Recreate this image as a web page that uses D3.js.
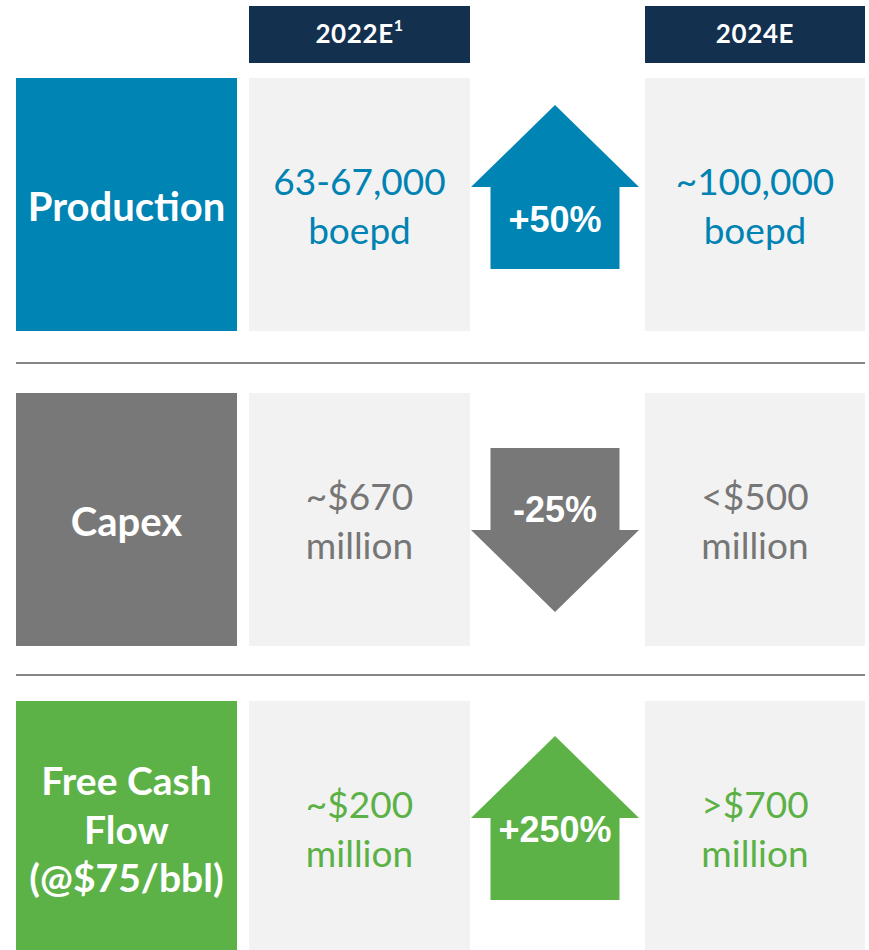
<!DOCTYPE html>
<html>
<head>
<meta charset="utf-8">
<script src="https://cdn.jsdelivr.net/npm/d3@7"></script>
<style>
  html, body { margin: 0; padding: 0; background: #ffffff; }
  svg { display: block; }
</style>
</head>
<body>
<div id="chart"></div>
<script>
// ---- data ----
const metrics = ["Production", "Capex", "Free Cash Flow"];
const metricLabelLines = [["Production"], ["Capex"], ["Free Cash", "Flow", "(@$75/bbl)"]];
const periods = ["2022E", "2024E"];
const periodFootnotes = ["1", ""];
const values2022 = [["63-67,000", "boepd"], ["~$670", "million"], ["~$200", "million"]];
const values2024 = [["~100,000", "boepd"], ["<$500", "million"], [">$700", "million"]];
const changeLabels = ["+50%", "-25%", "+250%"];
const changeDirections = ["up", "down", "up"];

// ---- layout / style ----
const W = 869, H = 950;
const colors = {
  Production: "#0084B4",
  Capex: "#787878",
  "Free Cash Flow": "#5CB247"
};
const textColors = {
  Production: "#0083B3",
  Capex: "#767676",
  "Free Cash Flow": "#5BB146"
};
const navy = "#14304F";
const cellBg = "#F2F2F2";

const rowTop = d3.scaleOrdinal().domain(metrics).range([78, 393, 701]);
const rowH = 253;
const colX = d3.scaleOrdinal().domain(["label", ...periods]).range([16, 249, 645]);
const colW = d3.scaleOrdinal().domain(["label", ...periods]).range([221, 221, 220]);
const arrowCx = 555;
const arrowTopOffset = d3.scaleOrdinal().domain(metrics).range([27, 55, 35]);
const arrowTextOffset = d3.scaleOrdinal().domain(metrics).range([127, 74, 106]);
const separatorsY = [363, 675];

const svg = d3.select("#chart").append("svg")
  .attr("width", W).attr("height", H)
  .attr("viewBox", `0 0 ${W} ${H}`);

// header boxes
const header = svg.append("g").selectAll("g")
  .data(periods)
  .join("g");
header.append("rect")
  .attr("x", d => colX(d)).attr("y", 6)
  .attr("width", d => colW(d)).attr("height", 57)
  .attr("fill", navy);
const headerText = header.append("text")
  .attr("x", d => colX(d) + colW(d) / 2)
  .attr("y", 43)
  .attr("text-anchor", "middle")
  .attr("fill", "#ffffff")
  .attr("font-family", "Lato, 'Open Sans', sans-serif")
  .attr("font-weight", "bold")
  .attr("font-size", 26)
  .attr("letter-spacing", 0.6);
headerText.append("tspan").text(d => d);
headerText.append("tspan")
  .attr("dy", -12)
  .attr("font-size", 16)
  .text((d, i) => periodFootnotes[i]);

// separator lines
svg.append("g").selectAll("line")
  .data(separatorsY)
  .join("line")
  .attr("x1", 16).attr("x2", 865)
  .attr("y1", d => d).attr("y2", d => d)
  .attr("stroke", "#868686")
  .attr("stroke-width", 1.8);

// rows
const rows = svg.append("g").selectAll("g.row")
  .data(metrics)
  .join("g")
  .attr("class", "row");

rows.append("rect")
  .attr("x", colX("label")).attr("y", d => rowTop(d))
  .attr("width", colW("label")).attr("height", rowH)
  .attr("fill", d => colors[d]);

rows.each(function(d, i) {
  const g = d3.select(this);
  const cy = rowTop(d) + rowH / 2;
  const lines = metricLabelLines[i];
  const lh = 48.5;
  const first = cy + 16 - (lines.length - 1) / 2 * lh;
  g.append("text")
    .attr("text-anchor", "middle")
    .attr("fill", "#ffffff")
    .attr("font-family", "Lato, 'Open Sans', sans-serif")
    .attr("font-weight", "bold")
    .attr("font-size", lines.length > 1 ? 39 : 40)
    .selectAll("tspan")
    .data(lines)
    .join("tspan")
    .attr("x", colX("label") + colW("label") / 2)
    .attr("y", (l, j) => first + j * lh)
    .text(l => l);

  [values2022[i], values2024[i]].forEach((vals, k) => {
    const p = periods[k];
    g.append("rect")
      .attr("x", colX(p)).attr("y", rowTop(d))
      .attr("width", colW(p)).attr("height", rowH)
      .attr("fill", cellBg);
    g.append("text")
      .attr("text-anchor", "middle")
      .attr("fill", textColors[d])
      .attr("font-family", "Lato, 'Open Sans', sans-serif")
      .attr("font-size", 37)
      .selectAll("tspan")
      .data(vals)
      .join("tspan")
      .attr("x", colX(p) + colW(p) / 2)
      .attr("y", (v, j) => cy - 10 + j * 49)
      .text(v => v);
  });

  const top = rowTop(d) + arrowTopOffset(d);
  const headH = 82, totalH = 164, headHalf = 84, shaftHalf = 64.5;
  const pts = changeDirections[i] === "up"
    ? [[arrowCx, top], [arrowCx + headHalf, top + headH], [arrowCx + shaftHalf, top + headH],
       [arrowCx + shaftHalf, top + totalH], [arrowCx - shaftHalf, top + totalH],
       [arrowCx - shaftHalf, top + headH], [arrowCx - headHalf, top + headH]]
    : [[arrowCx - shaftHalf, top], [arrowCx + shaftHalf, top], [arrowCx + shaftHalf, top + headH],
       [arrowCx + headHalf, top + headH], [arrowCx, top + totalH], [arrowCx - headHalf, top + headH],
       [arrowCx - shaftHalf, top + headH]];
  g.append("path")
    .attr("d", d3.line()(pts) + "Z")
    .attr("fill", colors[d]);
  g.append("text")
    .attr("x", arrowCx)
    .attr("y", top + arrowTextOffset(d))
    .attr("text-anchor", "middle")
    .attr("fill", "#ffffff")
    .attr("font-family", "'Liberation Sans', Arial, sans-serif")
    .attr("font-weight", "bold")
    .attr("font-size", 36)
    .text(changeLabels[i]);
});
</script>
</body>
</html>
